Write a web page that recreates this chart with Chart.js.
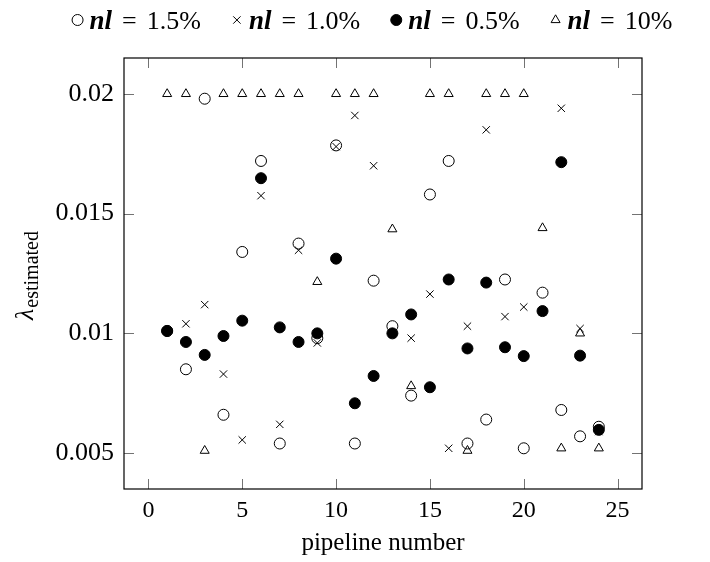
<!DOCTYPE html>
<html>
<head>
<meta charset="utf-8">
<script src="https://cdn.jsdelivr.net/npm/chart.js@4/dist/chart.umd.min.js"></script>
<style>
html,body{margin:0;padding:0;background:#fff;}
#wrap{width:710px;height:562px;}
</style>
</head>
<body>
<div id="wrap"><canvas id="c" width="710" height="562"></canvas></div>
<script>
// ---- data ----
const pipelineNumbers = [1,2,3,4,5,6,7,8,9,10,11,12,13,14,15,16,17,18,19,20,21,22,23,24];
const lambdaNl15 = [0.0101,0.0085,0.0198,0.0066,0.0134,0.0172,0.0054,0.01375,0.0098,0.01785,0.0054,0.0122,0.0103,0.0074,0.0158,0.0172,0.0054,0.0064,0.01225,0.0052,0.0117,0.0068,0.0057,0.0061];
const lambdaNl10 = [0.0101,0.0104,0.0112,0.0083,0.00555,0.01575,0.0062,0.01347,0.0096,0.0178,0.0191,0.0170,0.0100,0.0098,0.01164,0.0052,0.0103,0.0185,0.0107,0.0111,0.0109,0.0194,0.0102,0.0059];
const lambdaNl05 = [0.0101,0.00964,0.0091,0.00989,0.01053,0.01648,0.01025,0.00964,0.0100,0.01312,0.00708,0.00822,0.0100,0.01079,0.00775,0.01225,0.00937,0.01212,0.00942,0.00905,0.01093,0.01715,0.00907,0.00597];
const lambdaNl100 = [0.02,0.02,0.0051,0.02,0.02,0.02,0.02,0.02,0.01215,0.02,0.02,0.02,0.01435,0.0078,0.02,0.02,0.0051,0.02,0.02,0.02,0.0144,0.0052,0.0100,0.0052];
const seriesLabels = ['1.5%','1.0%','0.5%','10%'];
const legendVariable = 'nl';
const xTickValues = [0,5,10,15,20,25];
const yTickValues = [0.005,0.01,0.015,0.02];
const xAxisTitle = 'pipeline number';
const yAxisSymbol = 'λ';
const yAxisSubscript = 'estimated';

// ---- styles ----
const SERIF = '"Liberation Serif", "Times New Roman", serif';
Chart.defaults.font.family = SERIF;
Chart.defaults.color = '#000';

const styles = [
  {pointStyle:'circle',   radius:5.5, bg:'rgba(0,0,0,0)', order:3},
  {pointStyle:'crossRot', radius:5.2, bg:'rgba(0,0,0,0)', order:2},
  {pointStyle:'circle',   radius:5.5, bg:'#000',          order:1},
  {pointStyle:'triangle', radius:5.2, bg:'rgba(0,0,0,0)', order:0}
];
const seriesValues = [lambdaNl15, lambdaNl10, lambdaNl05, lambdaNl100];

const datasets = seriesValues.map((vals, i) => ({
  label: legendVariable + ' = ' + seriesLabels[i],
  data: pipelineNumbers.map((x, j) => ({x: x, y: vals[j]})),
  pointStyle: styles[i].pointStyle,
  pointRadius: styles[i].radius,
  pointHoverRadius: styles[i].radius,
  pointBorderWidth: 1,
  pointBorderColor: '#000',
  pointBackgroundColor: styles[i].bg,
  borderColor: '#000',
  backgroundColor: styles[i].bg,
  showLine: false,
  order: styles[i].order
}));

function drawMarker(ctx, st, x, y) {
  ctx.save();
  ctx.strokeStyle = '#000';
  ctx.fillStyle = st.bg;
  ctx.lineWidth = 1;
  if (Chart.helpers && Chart.helpers.drawPoint) {
    Chart.helpers.drawPoint(ctx, {pointStyle: st.pointStyle, radius: st.radius, borderWidth: 1, rotation: 0}, x, y);
  }
  ctx.restore();
}

const decor = {
  id: 'pgfDecor',
  beforeDatasetsDraw(chart) {
    const ctx = chart.ctx, a = chart.chartArea;
    const xs = chart.scales.x, ys = chart.scales.y;
    ctx.save();
    ctx.strokeStyle = 'rgba(0,0,0,0.55)';
    ctx.lineWidth = 1;
    const tl = 10;
    ctx.beginPath();
    xTickValues.forEach(v => {
      const px = Math.round(xs.getPixelForValue(v)) + 0.5;
      ctx.moveTo(px, a.bottom); ctx.lineTo(px, a.bottom - tl);
      ctx.moveTo(px, a.top); ctx.lineTo(px, a.top + tl);
    });
    yTickValues.forEach(v => {
      const py = Math.round(ys.getPixelForValue(v)) + 0.5;
      ctx.moveTo(a.left, py); ctx.lineTo(a.left + tl, py);
      ctx.moveTo(a.right, py); ctx.lineTo(a.right - tl, py);
    });
    ctx.stroke();
    ctx.strokeStyle = '#000';
    ctx.lineWidth = 1.2;
    ctx.strokeRect(a.left, a.top, a.right - a.left, a.bottom - a.top);
    ctx.restore();
  },
  afterDraw(chart) {
    const ctx = chart.ctx, a = chart.chartArea;
    // legend
    ctx.save();
    const fontVar = 'bold italic 27px ' + SERIF;
    const fontRest = '26px ' + SERIF;
    const gapMarker = 12, gapEq = 10, itemGap = 30;
    const items = seriesLabels.map((lab, i) => {
      ctx.font = fontVar; const wv = ctx.measureText(legendVariable).width;
      ctx.font = fontRest; const we = ctx.measureText('=').width; const wl = ctx.measureText(lab).width;
      const w = 6 + gapMarker + wv + gapEq + we + gapEq + wl;
      return {lab, wv, we, wl, w, st: styles[i]};
    });
    const total = items.reduce((s, it) => s + it.w, 0) + itemGap * (items.length - 1);
    let x = 374 - total / 2;
    const yMid = 20, yBase = 29;
    ctx.fillStyle = '#000';
    ctx.textBaseline = 'alphabetic';
    ctx.textAlign = 'left';
    items.forEach(it => {
      drawMarker(ctx, it.st, x + 4, yMid);
      let tx = x + 4 + gapMarker;
      ctx.fillStyle = '#000';
      ctx.font = fontVar; ctx.fillText(legendVariable, tx, yBase); tx += it.wv + gapEq;
      ctx.font = fontRest; ctx.fillText('=', tx, yBase); tx += it.we + gapEq;
      ctx.fillText(it.lab, tx, yBase);
      x += it.w + itemGap;
    });
    // y axis title: lambda with subscript, rotated
    const fontL = 'italic 26px ' + SERIF;
    const fontS = '20px ' + SERIF;
    ctx.font = fontL; const wL = ctx.measureText(yAxisSymbol).width;
    ctx.font = fontS; const wS = ctx.measureText(yAxisSubscript).width;
    const tot = wL + 1 + wS;
    ctx.translate(33, (a.top + a.bottom) / 2 + 2);
    ctx.rotate(-Math.PI / 2);
    ctx.font = fontL; ctx.fillText(yAxisSymbol, -tot / 2, 0);
    ctx.font = fontS; ctx.fillText(yAxisSubscript, -tot / 2 + wL + 1, 5);
    ctx.restore();
  }
};

new Chart(document.getElementById('c'), {
  type: 'scatter',
  data: {datasets},
  options: {
    responsive: false,
    animation: false,
    devicePixelRatio: 1,
    layout: {padding: {top: 58, right: 68, left: 0, bottom: 0}},
    plugins: {legend: {display: false}, tooltip: {enabled: false}},
    scales: {
      x: {
        type: 'linear', min: -1.3, max: 26.3,
        grid: {display: false, drawTicks: false}, border: {display: false},
        afterBuildTicks: s => { s.ticks = xTickValues.map(v => ({value: v})); },
        afterFit: s => { s.height = 73; },
        ticks: {font: {size: 24}, padding: 7, maxRotation: 0, color: '#000', callback: v => String(v)},
        title: {display: true, text: xAxisTitle, font: {size: 25}, padding: {top: 0, bottom: 4}, color: '#000'}
      },
      y: {
        type: 'linear', min: 0.0035, max: 0.0215,
        grid: {display: false, drawTicks: false}, border: {display: false},
        afterBuildTicks: s => { s.ticks = yTickValues.map(v => ({value: v})); },
        afterFit: s => { s.width = 124; },
        ticks: {font: {size: 26}, padding: 10, color: '#000', callback: v => String(v)}
      }
    }
  },
  plugins: [decor]
});
</script>
</body>
</html>
